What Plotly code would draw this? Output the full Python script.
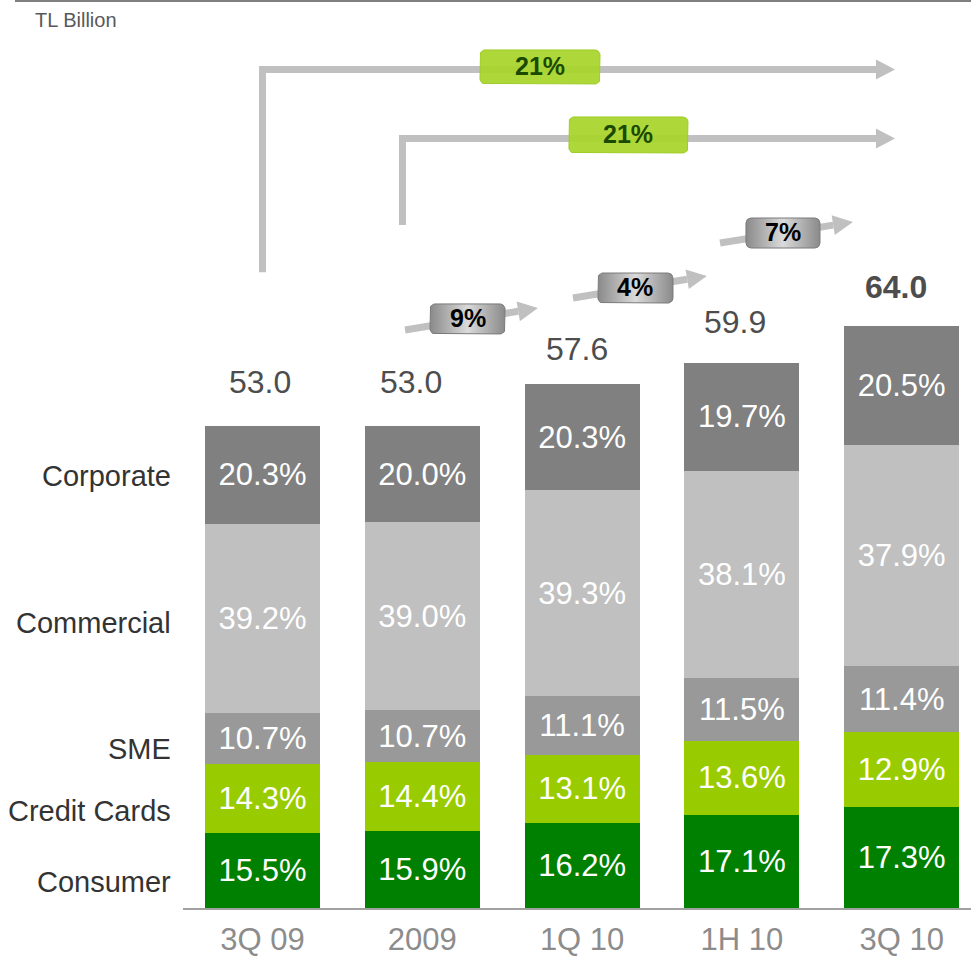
import numpy as np
import plotly.graph_objects as go

# ---- data -------------------------------------------------------------
categories = ["3Q 09", "2009", "1Q 10", "1H 10", "3Q 10"]
totals = [53.0, 53.0, 57.6, 59.9, 64.0]          # TL billion
consumer_pct = [15.5, 15.9, 16.2, 17.1, 17.3]
credit_cards_pct = [14.3, 14.4, 13.1, 13.6, 12.9]
sme_pct = [10.7, 10.7, 11.1, 11.5, 11.4]
commercial_pct = [39.2, 39.0, 39.3, 38.1, 37.9]
corporate_pct = [20.3, 20.0, 20.3, 19.7, 20.5]
segment_names = ["Consumer", "Credit Cards", "SME", "Commercial", "Corporate"]
growth_long = ["21%", "21%"]          # 3Q 09 -> 3Q 10, 2009 -> 3Q 10
growth_step = ["9%", "4%", "7%"]      # period-on-period steps

# ---- styling ----------------------------------------------------------
segment_colors = ["#008000", "#99cc00", "#999999", "#c0c0c0", "#808080"]
FONT = "Liberation Sans, Arial, sans-serif"
W, H = 971, 958
ML, MB = 183, 50
PX_X = 159.8                 # pixels per category step
Y_MAX = 99.84
PX_Y = (H - MB) / Y_MAX      # pixels per TL billion
X_LO = -0.4975
X_HI = X_LO + (W - ML) / PX_X

segments_pct = [consumer_pct, credit_cards_pct, sme_pct, commercial_pct, corporate_pct]
xs = list(range(len(categories)))

fig = go.Figure()

# ---- stacked bars -----------------------------------------------------
for name, pcts, color in zip(segment_names, segments_pct, segment_colors):
    fig.add_trace(go.Bar(
        x=xs,
        y=[t * p / 100 for t, p in zip(totals, pcts)],
        name=name,
        marker=dict(color=color, line=dict(width=0)),
        text=[f"{p:.1f}%" for p in pcts],
        textposition="inside",
        insidetextanchor="middle",
        textangle=0,
        textfont=dict(family=FONT, size=31, color="white"),
        hoverinfo="skip",
        showlegend=False,
    ))

# ---- helpers for the growth arrows -------------------------------------
def to_px(x, y):
    return x * PX_X, -y * PX_Y

def from_px(px, py):
    return px / PX_X, -py / PX_Y

def arrow_head(x0, y0, x1, y1, length=20, half=10):
    """Line end (base) and triangle path for an arrow from (x0,y0) to (x1,y1)."""
    ax, ay = to_px(x0, y0)
    bx, by = to_px(x1, y1)
    d = np.array([bx - ax, by - ay])
    d = d / np.hypot(*d)
    n = np.array([-d[1], d[0]])
    base = np.array([bx, by]) - length * d
    p1 = base + half * n
    p2 = base - half * n
    pts = [from_px(*p1), (x1, y1), from_px(*p2)]
    path = "M {},{} L {},{} L {},{} Z".format(*[c for p in pts for c in p])
    return from_px(*base), path

def rounded_box(cx, cy, w, h, r=5, n=8):
    px, py = to_px(cx, cy)
    corners = [(px + w / 2 - r, py - h / 2 + r, -90, 0),
               (px + w / 2 - r, py + h / 2 - r, 0, 90),
               (px - w / 2 + r, py + h / 2 - r, 90, 180),
               (px - w / 2 + r, py - h / 2 + r, 180, 270)]
    bx, by = [], []
    for ccx, ccy, a0, a1 in corners:
        for a in np.linspace(np.radians(a0), np.radians(a1), n):
            qx, qy = from_px(ccx + r * np.cos(a), ccy + r * np.sin(a))
            bx.append(qx)
            by.append(qy)
    bx.append(bx[0])
    by.append(by[0])
    return bx, by

ARROW = "#c0c0c0"
shapes = []

# long bent arrows: (x of vertical stem, stem bottom, horizontal level, tip x)
long_arrows = [(0.0, 69.9, 92.2, 3.958), (0.876, 75.1, 84.6, 3.958)]
for sx, sy, hy, tx in long_arrows:
    (bxs, bys), head = arrow_head(sx, hy, tx, hy, length=19, half=10)
    shapes.append(dict(type="path", xref="x", yref="y", layer="below",
                       path=f"M {sx},{sy} L {sx},{hy} L {bxs},{hy}",
                       line=dict(color=ARROW, width=7)))
    shapes.append(dict(type="path", xref="x", yref="y", layer="below",
                       path=head, fillcolor=ARROW, line=dict(width=0)))

# short diagonal step arrows between consecutive periods
step_arrows = [(0.892, 63.56, 1.724, 65.97),
               (1.943, 67.08, 2.781, 69.49),
               (2.863, 73.12, 3.695, 75.43)]
for x0, y0, x1, y1 in step_arrows:
    (bxs, bys), head = arrow_head(x0, y0, x1, y1, length=20, half=10)
    shapes.append(dict(type="line", xref="x", yref="y", layer="below",
                       x0=x0, y0=y0, x1=bxs, y1=bys,
                       line=dict(color=ARROW, width=7)))
    shapes.append(dict(type="path", xref="x", yref="y", layer="below",
                       path=head, fillcolor=ARROW, line=dict(width=0)))

# rule across the top of the slide
shapes.append(dict(type="line", xref="paper", yref="paper",
                   x0=(15 - ML) / (W - ML), x1=1, y0=1 - 1 / (H - MB), y1=1 - 1 / (H - MB),
                   line=dict(color="#7f7f7f", width=2)))

annotations = []

# growth label boxes
long_boxes = [(1.7365, 92.48, 120, 34), (2.290, 85.0, 119, 36)]
for (cx, cy, w, h), label in zip(long_boxes, growth_long):
    bx, by = rounded_box(cx, cy, w, h, r=5)
    fig.add_trace(go.Scatter(x=bx, y=by, mode="lines", fill="toself",
                             fillcolor="rgba(168,212,42,0.93)",
                             line=dict(color="rgba(160,205,40,1)", width=1),
                             hoverinfo="skip", showlegend=False))
    annotations.append(dict(x=cx, y=cy, xref="x", yref="y", text=f"<b>{label}</b>",
                            showarrow=False, yshift=1,
                            font=dict(family=FONT, size=25, color="#1a4a00")))

step_boxes = [(1.283, 64.77, 75, 30), (2.334, 68.17, 75, 30), (3.257, 74.22, 74, 30)]
for (cx, cy, w, h), label in zip(step_boxes, growth_step):
    bx, by = rounded_box(cx, cy, w, h, r=5)
    fig.add_trace(go.Scatter(x=bx, y=by, mode="lines", fill="toself",
                             fillgradient=dict(type="horizontal",
                                               colorscale=[[0, "#8a8a8a"], [0.5, "#dadada"], [1, "#8a8a8a"]]),
                             line=dict(color="#7a7a7a", width=1),
                             hoverinfo="skip", showlegend=False))
    annotations.append(dict(x=cx, y=cy, xref="x", yref="y", text=f"<b>{label}</b>",
                            showarrow=False, yshift=1,
                            font=dict(family=FONT, size=25, color="#000000")))

# totals above each bar (latest period in bold)
total_yshift = [44, 44, 35, 41, 39]
total_xshift = [-3, -11, -5, -7, -6]
for i, t in enumerate(totals):
    txt = f"{t:.1f}"
    if i == len(totals) - 1:
        txt = f"<b>{txt}</b>"
    annotations.append(dict(x=i, y=t, xref="x", yref="y", text=txt, showarrow=False,
                            yanchor="middle", yshift=total_yshift[i], xshift=total_xshift[i],
                            font=dict(family=FONT, size=32, color="#4d4d4d")))

# segment names on the left, level with the first bar's segments
label_yshift = [-11, -12, -10, -5, -1]
cum = 0.0
for name, pcts, ys in zip(segment_names, segments_pct, label_yshift):
    v = totals[0] * pcts[0] / 100
    annotations.append(dict(x=-10 / (W - ML), xref="paper", y=cum + v / 2, yref="y",
                            text=name, showarrow=False, xanchor="right", yanchor="middle",
                            yshift=ys, font=dict(family=FONT, size=29, color="#333333")))
    cum += v

annotations.append(dict(x=(33 - ML) / (W - ML), y=1 - 20 / (H - MB), xref="paper", yref="paper",
                        text="TL Billion", showarrow=False, xanchor="left", yanchor="middle",
                        font=dict(family=FONT, size=20, color="#595959")))

fig.update_layout(
    width=W, height=H,
    margin=dict(l=ML, r=0, t=0, b=MB, pad=0, autoexpand=False),
    barmode="stack",
    bargap=0.28,
    plot_bgcolor="white",
    paper_bgcolor="white",
    font=dict(family=FONT),
    shapes=shapes,
    annotations=annotations,
    xaxis=dict(range=[X_LO, X_HI], tickmode="array", tickvals=xs, ticktext=categories,
               showgrid=False, zeroline=False, showline=True, linecolor="#a0a0a0",
               linewidth=1.5, ticks="", fixedrange=True, ticklabelstandoff=3,
               automargin=False,
               tickfont=dict(family=FONT, size=31, color="#8c8c8c")),
    yaxis=dict(range=[0, Y_MAX], visible=False, showgrid=False, zeroline=False,
               fixedrange=True, automargin=False),
)

fig.write_html("out.html")
